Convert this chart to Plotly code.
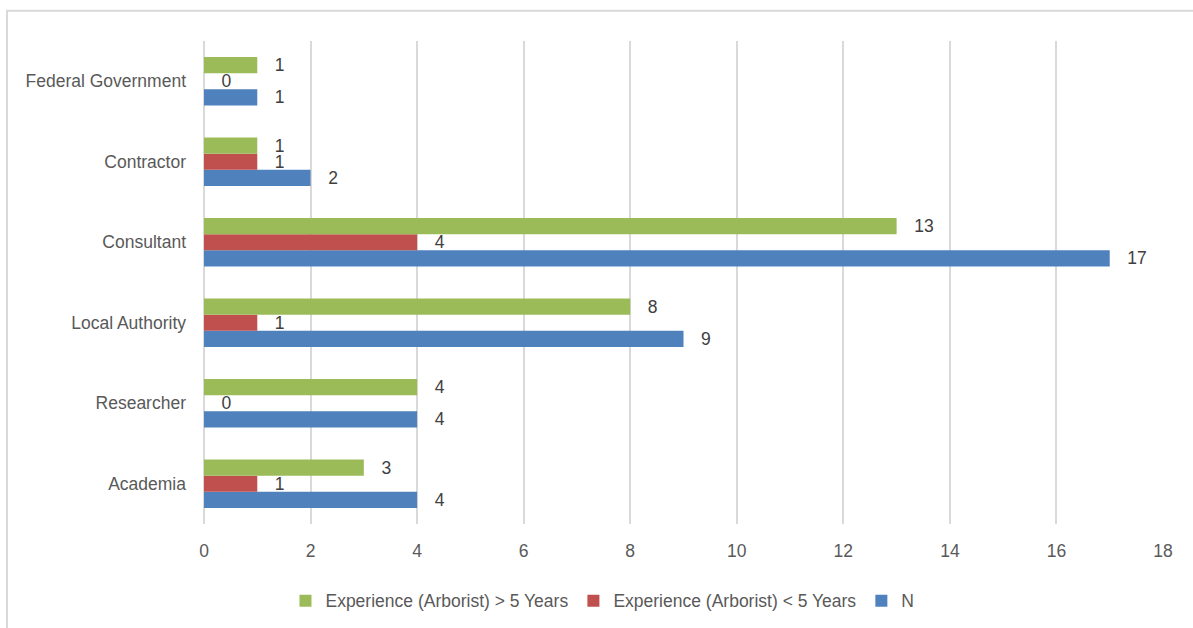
import plotly.graph_objects as go

categories = ["Academia", "Researcher", "Local Authority", "Consultant", "Contractor", "Federal Government"]
n_values = [4, 4, 9, 17, 2, 1]
lt5_values = [1, 0, 1, 4, 1, 0]
gt5_values = [3, 4, 8, 13, 1, 1]
x_ticks = [0, 2, 4, 6, 8, 10, 12, 14, 16, 18]

FONT = "Liberation Sans Narrow, Liberation Sans, Arial, sans-serif"
TXT = "#595959"

fig = go.Figure()
series = [
    ("N", n_values, "#4f81bd"),
    ("Experience (Arborist) < 5 Years", lt5_values, "#c0504d"),
    ("Experience (Arborist) > 5 Years", gt5_values, "#9bbb59"),
]
for name, vals, col in series:
    fig.add_trace(go.Bar(
        y=categories, x=vals, name=name, orientation="h",
        marker=dict(color=col, line=dict(width=0)),
        text=vals, texttemplate="   %{x}", textposition="outside",
        constraintext="none",
        textfont=dict(size=17.5, color="#404040", family=FONT),
        cliponaxis=False,
    ))

fig.update_layout(
    width=1193, height=628,
    margin=dict(l=204, r=30, t=41, b=104, autoexpand=False),
    paper_bgcolor="white", plot_bgcolor="white",
    barmode="group", bargap=0.4, bargroupgap=0,
    font=dict(family=FONT, size=17.5, color=TXT),
    showlegend=True,
    legend=dict(orientation="h", xref="container", x=0.505, xanchor="center",
                yref="container", y=0.072, yanchor="top",
                traceorder="reversed", font=dict(size=17.5, color=TXT, family=FONT),
                itemwidth=30),
    xaxis=dict(range=[0, 18], tickvals=x_ticks, showgrid=True, gridcolor="#d9d9d9",
               gridwidth=2, zeroline=True, zerolinecolor="#d9d9d9", zerolinewidth=2,
               showline=False, ticks="", ticklabelstandoff=14, automargin=False,
               tickfont=dict(size=17.5, color=TXT)),
    yaxis=dict(showgrid=False, showline=False, ticks="", ticklabelstandoff=17,
               automargin=False, tickfont=dict(size=17.5, color=TXT)),
)
fig.add_shape(type="rect", xref="paper", yref="paper",
              x0=-0.2054, x1=1.2, y0=-0.3, y1=1.0625,
              line=dict(color="#d9d9d9", width=2), layer="below")

fig.write_html("out.html")
